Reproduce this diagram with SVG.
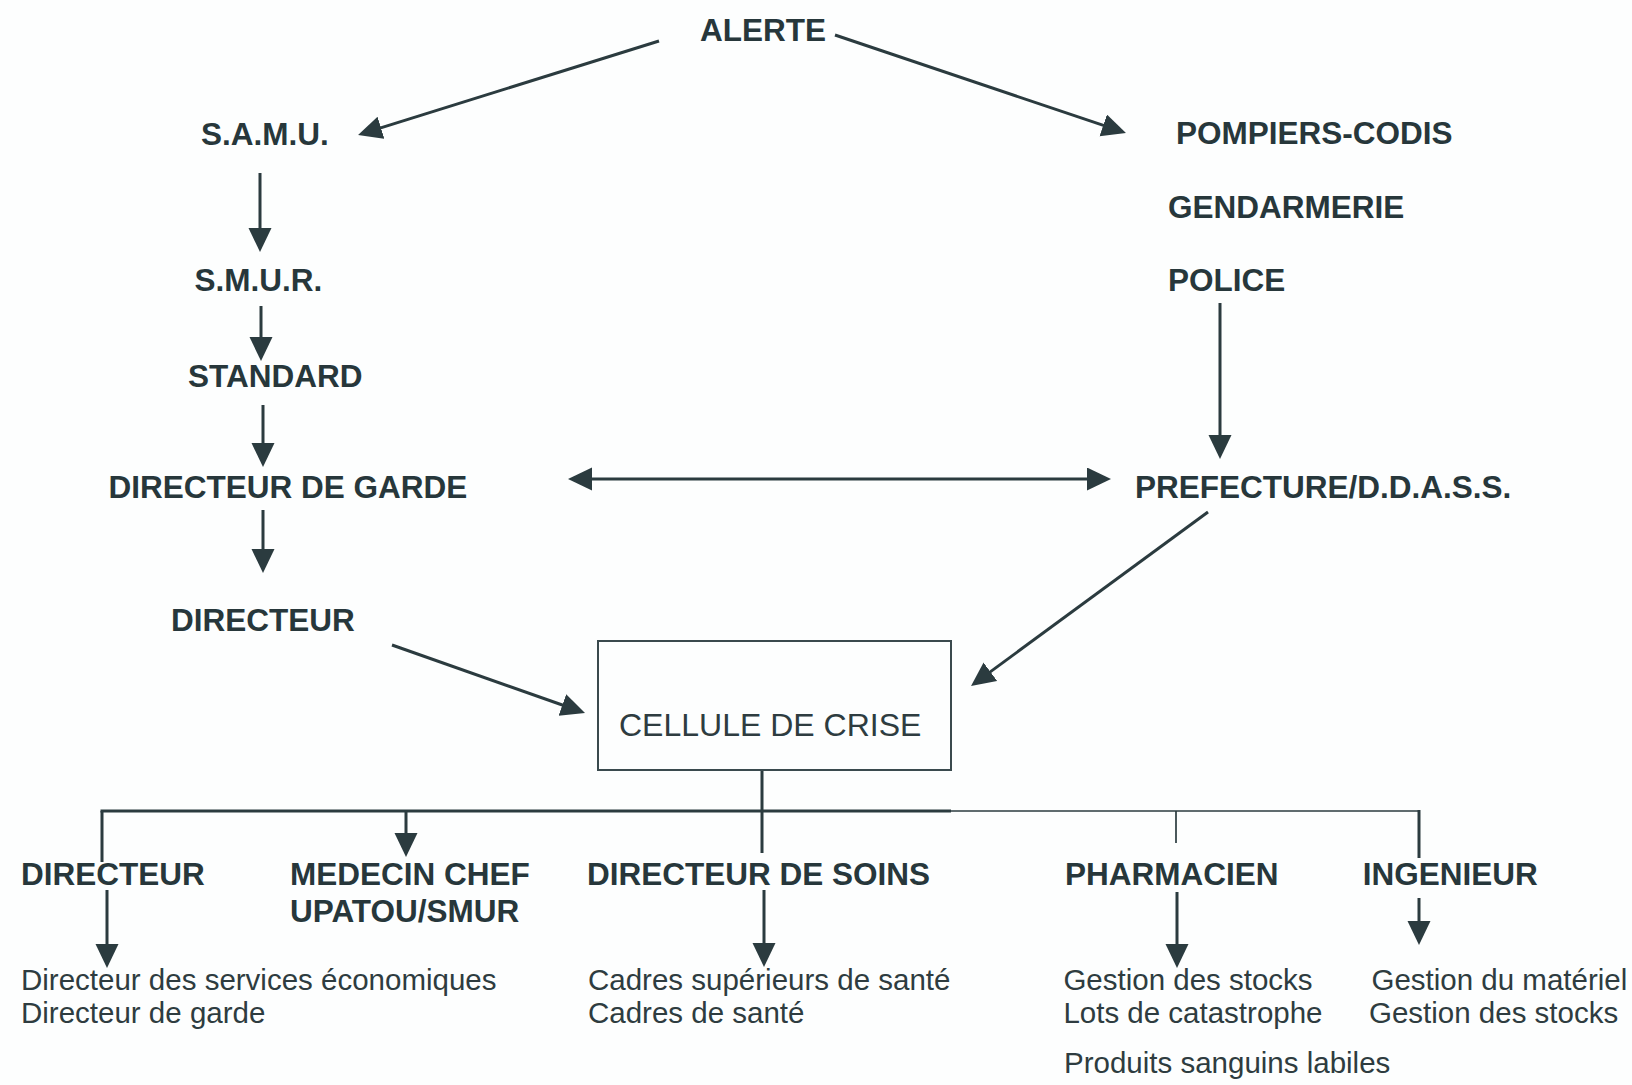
<svg xmlns="http://www.w3.org/2000/svg" width="1632" height="1085" viewBox="0 0 1632 1085">
<defs>
<style>
.b{font-family:"Liberation Sans",Arial,sans-serif;font-weight:bold;font-size:31.5px;fill:#27373b}
.r{font-family:"Liberation Sans",Arial,sans-serif;font-size:29.5px;fill:#2e3c40}
.c{stroke:#2b3b3f;stroke-width:3;fill:none}
.t{stroke:#2b3b3f;stroke-width:1.7;fill:none}
.a{marker-end:url(#ah)}
</style>
<marker id="ah" markerUnits="userSpaceOnUse" markerWidth="26" markerHeight="24" refX="12" refY="11.5" orient="auto-start-reverse" viewBox="0 0 26 24">
<path d="M0,0 L24,11.5 L0,23 z" fill="#2b3b3f"/>
</marker>
</defs>
<rect width="1632" height="1085" fill="#fdfefe"/>
<g id="connectors">
<line class="c a" x1="659" y1="41" x2="369.5" y2="131.4"/>
<line class="c a" x1="835" y1="35" x2="1114.6" y2="129.2"/>
<line class="c a" x1="260" y1="173" x2="260" y2="240"/>
<line class="c a" x1="261" y1="306" x2="261" y2="349"/>
<line class="c a" x1="263" y1="405" x2="263" y2="455"/>
<line class="c a" x1="263" y1="510" x2="263" y2="561"/>
<line class="c a" x1="580" y1="479" x2="1099" y2="479" marker-start="url(#ah)"/>
<line class="c a" x1="1220" y1="303" x2="1220" y2="447"/>
<line class="c a" x1="1208" y1="512" x2="980.7" y2="678.9"/>
<line class="c a" x1="392" y1="645" x2="573.7" y2="709"/>
<line class="c" x1="762" y1="770" x2="762" y2="853"/>
<line class="c" x1="100.5" y1="811" x2="951" y2="811"/>
<line class="t" x1="951" y1="811" x2="1420" y2="811"/>
<line class="c" x1="102" y1="811" x2="102" y2="862"/>
<line class="c a" x1="107" y1="890" x2="107" y2="956"/>
<line class="c a" x1="406" y1="811" x2="406" y2="845"/>
<line class="c a" x1="764" y1="890" x2="764" y2="955"/>
<line class="t" x1="1176" y1="811" x2="1176" y2="843"/>
<line class="c a" x1="1177" y1="892" x2="1177" y2="956"/>
<line class="c" x1="1419" y1="810" x2="1419" y2="858"/>
<line class="c a" x1="1419" y1="898" x2="1419" y2="933"/>
</g>
<g id="alerte"><text class="b" x="700" y="41">ALERTE</text></g>
<g id="samu"><text class="b" x="201" y="145">S.A.M.U.</text></g>
<g id="pompiers"><text class="b" x="1176" y="143.5">POMPIERS-CODIS</text></g>
<g id="gendarmerie"><text class="b" x="1168" y="218">GENDARMERIE</text></g>
<g id="police"><text class="b" x="1168" y="290.7">POLICE</text></g>
<g id="smur"><text class="b" x="194.5" y="291">S.M.U.R.</text></g>
<g id="standard"><text class="b" x="188" y="386.7">STANDARD</text></g>
<g id="directeur-garde"><text class="b" x="108.4" y="497.7">DIRECTEUR DE GARDE</text></g>
<g id="prefecture"><text class="b" x="1135" y="497.7">PREFECTURE/D.D.A.S.S.</text></g>
<g id="directeur"><text class="b" x="171" y="631">DIRECTEUR</text></g>
<g id="cellule">
<rect x="598" y="641" width="353" height="129" fill="none" stroke="#3a4a4e" stroke-width="2"/>
<text x="619" y="736" style="font-family:'Liberation Sans',Arial,sans-serif;font-size:32px;fill:#2e3c40">CELLULE DE CRISE</text>
</g>
<g id="directeur-bas">
<text class="b" x="21" y="885">DIRECTEUR</text>
<text class="r" x="21" y="990">Directeur des services économiques</text>
<text class="r" x="21" y="1023">Directeur de garde</text>
</g>
<g id="medecin-chef">
<text class="b" x="290" y="885">MEDECIN CHEF</text>
<text class="b" x="290" y="922">UPATOU/SMUR</text>
</g>
<g id="directeur-soins">
<text class="b" x="587" y="885">DIRECTEUR DE SOINS</text>
<text class="r" x="588" y="990">Cadres supérieurs de santé</text>
<text class="r" x="588" y="1023">Cadres de santé</text>
</g>
<g id="pharmacien">
<text class="b" x="1065" y="885">PHARMACIEN</text>
<text class="r" x="1063.4" y="990">Gestion des stocks</text>
<text class="r" x="1063.4" y="1023">Lots de catastrophe</text>
<text class="r" x="1064" y="1072.7">Produits sanguins labiles</text>
</g>
<g id="ingenieur">
<text class="b" x="1362.7" y="885">INGENIEUR</text>
<text class="r" x="1371.5" y="990">Gestion du matériel</text>
<text class="r" x="1369" y="1023">Gestion des stocks</text>
</g>
</svg>
